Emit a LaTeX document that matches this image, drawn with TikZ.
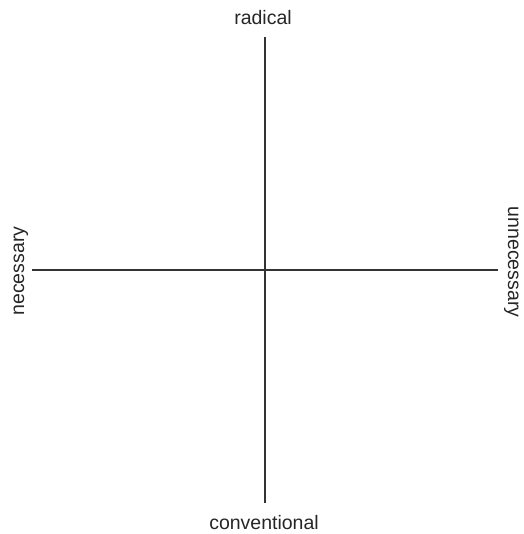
\documentclass[tikz,border=0pt]{standalone}
\usepackage{fontspec}
\setmainfont{Liberation Sans}
\begin{document}
\begin{tikzpicture}[x=1pt,y=-1pt,
  axis/.style={line width=2.8pt,draw=black!80},
  lbl/.style={font=\fontsize{19.5}{22}\selectfont,text=black!85,inner sep=0pt}]
\useasboundingbox (0,0) rectangle (523,534);
\coordinate (top) at (265,37);
\coordinate (bot) at (265,503);
\coordinate (left) at (32,270);
\coordinate (right) at (498,270);
\draw[axis] (top) -- (bot);
\draw[axis] (left) -- (right);
\node[lbl,anchor=base] (radical) at (263,25) {radical};
\node[lbl,anchor=base] (conv) at (264,529) {conventional};
\node[lbl,rotate=90,anchor=base] (nec) at (24,271) {necessary};
\node[lbl,rotate=-90,anchor=base] (unnec) at (508,262) {unnecessary};
\end{tikzpicture}
\end{document}
